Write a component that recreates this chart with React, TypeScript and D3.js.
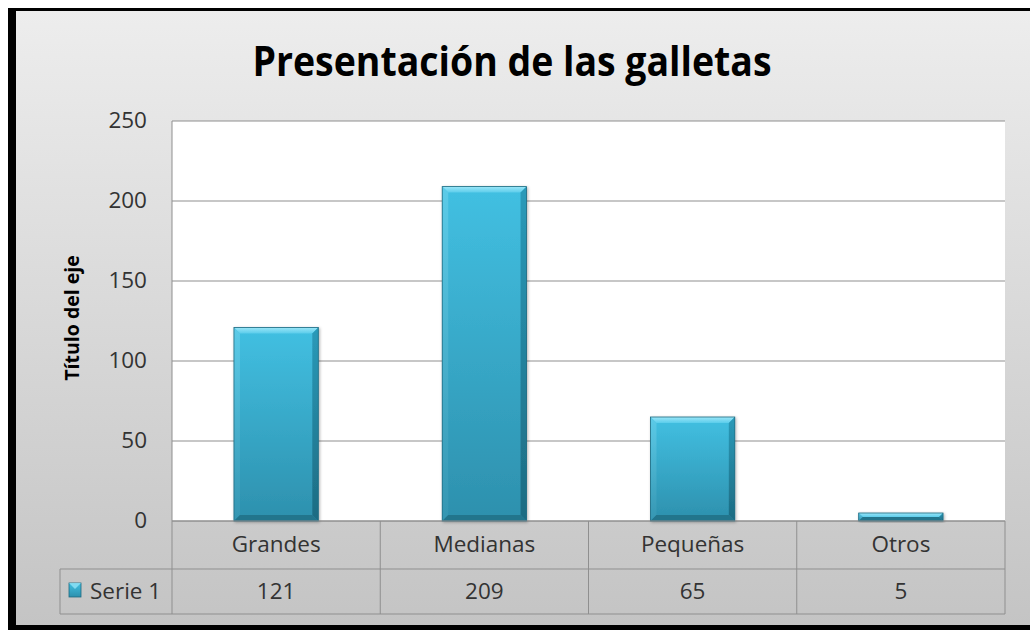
import React from "react";
import * as d3 from "d3";

const categories = ["Grandes", "Medianas", "Pequeñas", "Otros"];
const values = [121, 209, 65, 5];
const yTicks = [0, 50, 100, 150, 200, 250];
const seriesName = "Serie 1";
const title = "Presentación de las galletas";
const axisTitle = "Título del eje";

const W = 1030;
const H = 630;
const plot = { left: 172, right: 1005, top: 121, bottom: 521 };
const rowH1 = 48;
const rowH2 = 45;
const FONT = "'Open Sans', 'Noto Sans', sans-serif";
const FS = 22.5;

export default function App() {
  const x = d3.scaleBand<string>().domain(categories).range([plot.left, plot.right]).padding(0);
  const y = d3.scaleLinear().domain([0, 250]).range([plot.bottom, plot.top]);
  const bw = x.bandwidth() * 0.405;
  const bev = 6;
  const tableTop = plot.bottom;
  const row2Top = tableTop + rowH1;
  const tableBottom = row2Top + rowH2;
  const legendLeft = 60;

  return (
    <svg width={W} height={H} style={{ position: "absolute", left: 0, top: 0 }}>
      <defs>
        <linearGradient id="bg" x1="0" y1="0" x2="0" y2="1">
          <stop offset="0" stopColor="#ededed" />
          <stop offset="1" stopColor="#c4c4c4" />
        </linearGradient>
        <linearGradient id="barFill" x1="0" y1="0" x2="0" y2="1">
          <stop offset="0" stopColor="#42c0e2" />
          <stop offset="1" stopColor="#2d90ad" />
        </linearGradient>
        <linearGradient id="barTop" x1="0" y1="0" x2="0" y2="1">
          <stop offset="0" stopColor="#9be6f8" />
          <stop offset="1" stopColor="#5ccdeb" />
        </linearGradient>
        <linearGradient id="barRight" x1="0" y1="0" x2="0" y2="1">
          <stop offset="0" stopColor="#2a9ab9" />
          <stop offset="1" stopColor="#1d6b82" />
        </linearGradient>
        <linearGradient id="barLeft" x1="0" y1="0" x2="0" y2="1">
          <stop offset="0" stopColor="#5ccbe8" />
          <stop offset="1" stopColor="#3596b2" />
        </linearGradient>
        <filter id="shadow" x="-20%" y="-20%" width="140%" height="140%">
          <feDropShadow dx="1" dy="1" stdDeviation="1.5" floodColor="#000" floodOpacity="0.3" />
        </filter>
      </defs>

      {/* frame */}
      <rect x={8} y={8} width={W - 8} height={H - 8} fill="#000" />
      <rect x={16} y={11} width={W - 16} height={625 - 11} fill="url(#bg)" />

      {/* title */}
      <text
        x={512}
        y={76}
        textAnchor="middle"
        fontFamily={FONT}
        fontWeight="bold"
        fontSize={41}
        textLength={519}
        lengthAdjust="spacingAndGlyphs"
        fill="#000"
      >
        {title}
      </text>

      {/* plot area */}
      <rect x={plot.left} y={plot.top} width={plot.right - plot.left} height={plot.bottom - plot.top} fill="#fff" />
      {yTicks.map((t) => (
        <line key={t} x1={plot.left} x2={plot.right} y1={y(t)} y2={y(t)} stroke="#8f8f8f" strokeWidth={1} />
      ))}
      <line x1={plot.left} x2={plot.left} y1={plot.top} y2={tableBottom} stroke="#8f8f8f" />

      {/* y ticks */}
      {yTicks.map((t) => (
        <text
          key={t}
          x={147}
          y={y(t)}
          dy="0.33em"
          textAnchor="end"
          fontFamily={FONT}
          fontSize={FS}
          fill="#333"
        >
          {t}
        </text>
      ))}

      {/* axis title */}
      <text
        transform={`translate(79, ${(plot.top + plot.bottom) / 2 - 3}) rotate(-90)`}
        textAnchor="middle"
        fontFamily={FONT}
        fontWeight="bold"
        fontSize={19.5}
        fill="#000"
      >
        {axisTitle}
      </text>

      {/* bars */}
      {categories.map((c, i) => {
        const cx = (x(c) as number) + x.bandwidth() / 2;
        const x0 = cx - bw / 2;
        const x1 = cx + bw / 2;
        const y0 = y(values[i]);
        const y1 = y(0);
        const h = y1 - y0;
        const b = Math.min(bev, h / 2);
        return (
          <g key={c} filter="url(#shadow)">
            <rect x={x0} y={y0} width={bw} height={h} fill="url(#barFill)" />
            <polygon points={`${x0},${y0} ${x1},${y0} ${x1 - b},${y0 + b} ${x0 + b},${y0 + b}`} fill="url(#barTop)" />
            <polygon points={`${x1},${y0} ${x1},${y1} ${x1 - b},${y1 - b} ${x1 - b},${y0 + b}`} fill="url(#barRight)" />
            <polygon points={`${x0},${y0} ${x0 + b},${y0 + b} ${x0 + b},${y1 - b} ${x0},${y1}`} fill="url(#barLeft)" />
            <polygon points={`${x0},${y1} ${x0 + b},${y1 - b} ${x1 - b},${y1 - b} ${x1},${y1}`} fill="#24748c" />
            <rect x={x0} y={y0} width={bw} height={h} fill="none" stroke="#1f6a80" strokeWidth={0.8} />
          </g>
        );
      })}

      {/* data table */}
      <line x1={plot.left} x2={plot.right} y1={tableTop} y2={tableTop} stroke="#8f8f8f" />
      <line x1={legendLeft} x2={plot.right} y1={row2Top} y2={row2Top} stroke="#8f8f8f" />
      <line x1={legendLeft} x2={plot.right} y1={tableBottom} y2={tableBottom} stroke="#8f8f8f" />
      <line x1={legendLeft} x2={legendLeft} y1={row2Top} y2={tableBottom} stroke="#8f8f8f" />
      <line x1={plot.right} x2={plot.right} y1={tableTop} y2={tableBottom} stroke="#8f8f8f" />
      {categories.map((c, i) =>
        i > 0 ? (
          <line key={c} x1={x(c) as number} x2={x(c) as number} y1={tableTop} y2={tableBottom} stroke="#8f8f8f" />
        ) : null
      )}
      {categories.map((c, i) => {
        const cx = (x(c) as number) + x.bandwidth() / 2;
        return (
          <g key={c}>
            <text x={cx} y={tableTop + rowH1 / 2} dy="0.33em" textAnchor="middle" fontFamily={FONT} fontSize={FS} fill="#333">
              {c}
            </text>
            <text x={cx} y={row2Top + rowH2 / 2} dy="0.33em" textAnchor="middle" fontFamily={FONT} fontSize={FS} fill="#333">
              {values[i]}
            </text>
          </g>
        );
      })}

      {/* legend key */}
      <rect x={69} y={583} width={12} height={14} fill="url(#barFill)" stroke="#1f6a80" strokeWidth={0.8} />
      <polygon points="69,583 81,583 75,589" fill="#8de0f5" opacity={0.85} />
      <text x={90} y={row2Top + rowH2 / 2} dy="0.33em" fontFamily={FONT} fontSize={FS} fill="#333">
        {seriesName}
      </text>
    </svg>
  );
}
